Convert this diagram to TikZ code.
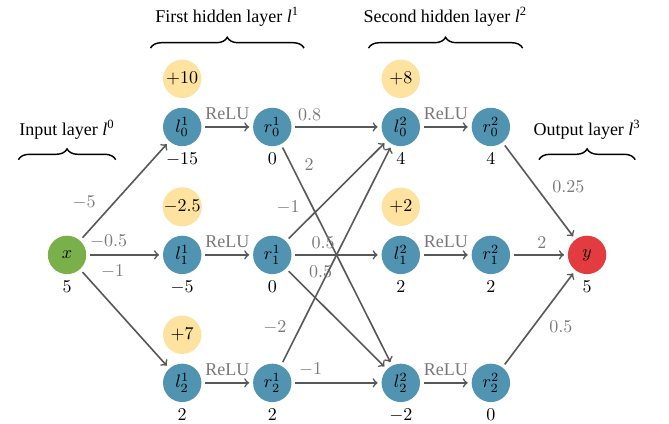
\documentclass[tikz,border=0pt]{standalone}
\usepackage{fontspec}
\setmainfont{Liberation Serif}
\usetikzlibrary{decorations.pathreplacing}
\definecolor{neuronblue}{RGB}{80,148,178}
\definecolor{inputgreen}{RGB}{122,176,74}
\definecolor{outputred}{RGB}{226,60,64}
\definecolor{biasyellow}{RGB}{253,226,160}
\definecolor{edgegray}{RGB}{88,88,88}
\definecolor{weightgray}{RGB}{120,120,120}
\begin{document}
\begin{tikzpicture}[auto,
    neuron/.style ={circle, fill=neuronblue, inner sep=0pt, minimum size=7.5mm},
    innode/.style ={neuron, fill=inputgreen},
    outnode/.style ={neuron, fill=outputred},
    bias/.style ={neuron, fill=biasyellow},
    edge/.style ={line width=0.9pt, ->, draw=edgegray, shorten <=2pt, shorten >=2pt},
    weight/.style ={text=weightgray},
    layerbrace/.style ={thick, decorate, decoration={brace, amplitude=6pt}}]
   \useasboundingbox (0,0) rectangle (13.07,8.28);
   % input layer
   \node[innode, label=below:$5$] (x) at (1.31,3.30) {$x$};
   % first hidden layer
   \node[neuron, label=below:$-15$] (l01) at (3.56,5.80) {$l^1_0$};
   \node[neuron, label=below:$-5$]  (l11) at (3.56,3.30) {$l^1_1$};
   \node[neuron, label=below:$2$]   (l21) at (3.56,0.80) {$l^1_2$};
   \node[neuron, label=below:$0$]   (r01) at (5.32,5.80) {$r^1_0$};
   \node[neuron, label=below:$0$]   (r11) at (5.32,3.30) {$r^1_1$};
   \node[neuron, label=below:$2$]   (r21) at (5.32,0.80) {$r^1_2$};
   \node[bias] (b01) at (3.56,6.74) {$+10$};
   \node[bias] (b11) at (3.56,4.24) {$-2.5$};
   \node[bias] (b21) at (3.56,1.74) {$+7$};
   % second hidden layer
   \node[neuron, label=below:$4$]  (l02) at (7.83,5.80) {$l^2_0$};
   \node[neuron, label=below:$2$]  (l12) at (7.83,3.30) {$l^2_1$};
   \node[neuron, label=below:$-2$] (l22) at (7.83,0.80) {$l^2_2$};
   \node[neuron, label=below:$4$]  (r02) at (9.59,5.80) {$r^2_0$};
   \node[neuron, label=below:$2$]  (r12) at (9.59,3.30) {$r^2_1$};
   \node[neuron, label=below:$0$]  (r22) at (9.59,0.80) {$r^2_2$};
   \node[bias] (b02) at (7.83,6.74) {$+8$};
   \node[bias] (b12) at (7.83,4.24) {$+2$};
   % output layer
   \node[outnode, label=below:$5$] (y) at (11.47,3.30) {$y$};
   % weights into the first hidden layer
   \draw[edge] (x) to node[weight, pos=0.25] {$-5$} (l01);
   \draw[edge] (x) to node[weight, pos=0.29] {$-0.5$} (l11);
   \draw[edge] (x) to node[weight, pos=0.16] {$-1$} (l21);
   % ReLU
   \draw[edge] (l01) to node[weight] {$\mathrm{ReLU}$} (r01);
   \draw[edge] (l11) to node[weight] {$\mathrm{ReLU}$} (r11);
   \draw[edge] (l21) to node[weight] {$\mathrm{ReLU}$} (r21);
   \draw[edge] (l02) to node[weight] {$\mathrm{ReLU}$} (r02);
   \draw[edge] (l12) to node[weight] {$\mathrm{ReLU}$} (r12);
   \draw[edge] (l22) to node[weight] {$\mathrm{ReLU}$} (r22);
   % weights into the second hidden layer
   \draw[edge] (r01) to node[weight, pos=0.2]  {$0.8$} (l02);
   \draw[edge] (r01) to node[weight, pos=0.15] {$2$} (l22);
   \draw[edge] (r11) to node[weight, pos=0.2]  {$-1$} (l02);
   \draw[edge] (r11) to node[weight, pos=0.35] {$0.5$} (l12);
   \draw[edge] (r11) to node[weight, pos=0.16] {$0.5$} (l22);
   \draw[edge] (r21) to node[weight, pos=0.11] {$-2$} (l02);
   \draw[edge] (r21) to node[weight, pos=0.21] {$-1$} (l22);
   % weights into the output
   \draw[edge] (r02) to node[weight, pos=0.59] {$0.25$} (y);
   \draw[edge] (r12) to node[weight, pos=0.55] {$2$} (y);
   \draw[edge] (r22) to node[weight, pos=0.55, swap] {$0.5$} (y);
   % layer braces
   \draw[layerbrace] (0.36,5.16) -- (2.26,5.16);
   \draw[layerbrace] (2.94,7.34) -- (5.94,7.34);
   \draw[layerbrace] (7.20,7.34) -- (10.21,7.34);
   \draw[layerbrace] (10.53,5.16) -- (12.41,5.16);
   \node (t0) at (1.31,5.74)  {Input layer \textit{l}\textsuperscript{0}};
   \node (t1) at (4.44,7.95)  {First hidden layer \textit{l}\textsuperscript{1}};
   \node (t2) at (8.70,7.95)  {Second hidden layer \textit{l}\textsuperscript{2}};
   \node (t3) at (11.47,5.74) {Output layer \textit{l}\textsuperscript{3}};
 \end{tikzpicture}
\end{document}
